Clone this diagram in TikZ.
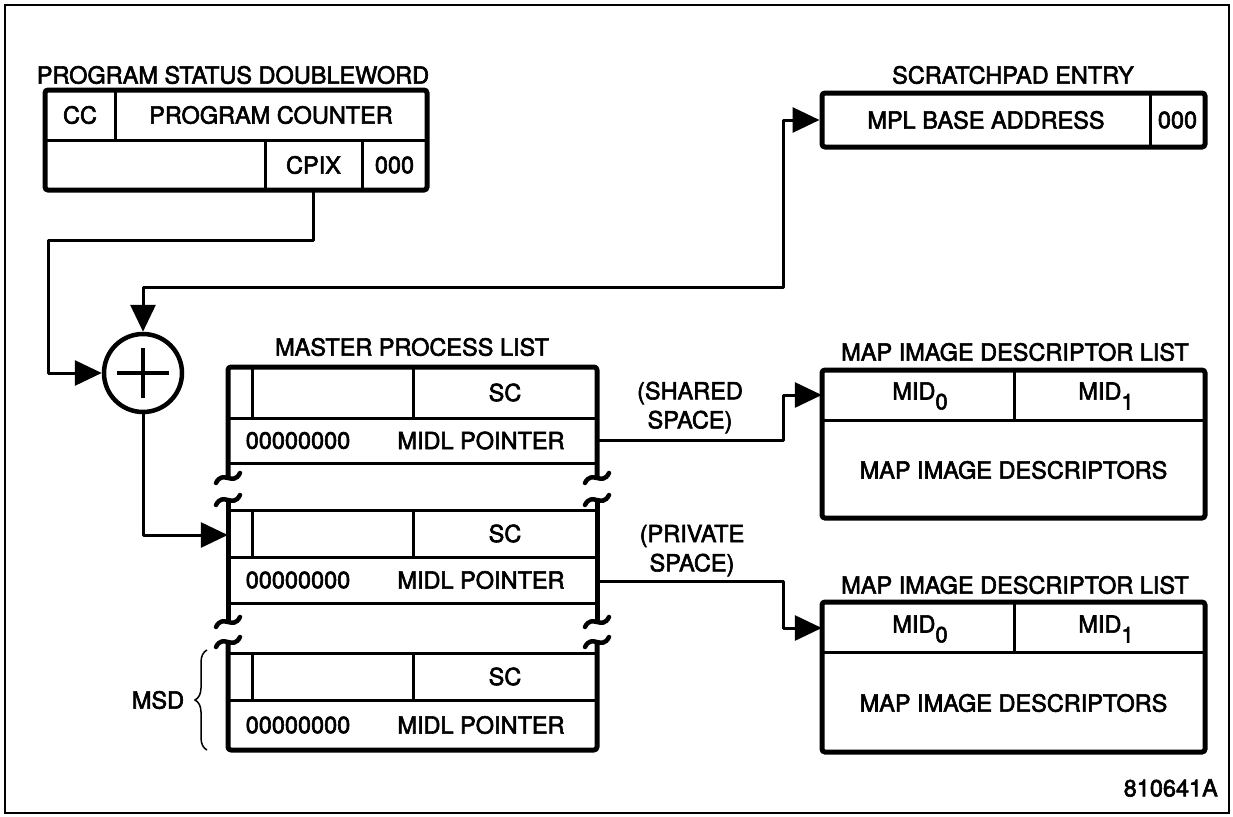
\documentclass[tikz,border=0pt]{standalone}
\usepackage{fontspec}
\setmainfont{TeX Gyre Heros}[FakeBold=2.5]
\usetikzlibrary{arrows.meta,decorations.pathreplacing,calc}
\begin{document}
\begin{tikzpicture}[x=1pt,y=-1pt,
  txt/.style={font=\fontsize{23.5}{27}\selectfont, inner sep=0pt},
  boxn/.style={draw, line width=5pt, rounded corners=3pt, inner sep=0pt},
  cell/.style={inner sep=0pt, font=\fontsize{23.5}{27}\selectfont},
  outerln/.style={line width=5pt, line join=round, rounded corners=3pt},
  innerln/.style={line width=3pt},
  conn/.style={line width=3pt, line join=round, -{Triangle[length=27pt,width=25pt]}},
  conntwo/.style={line width=3pt, line join=round, {Triangle[length=27pt,width=25pt]}-{Triangle[length=27pt,width=25pt]}},
  brk/.style={line width=4.5pt, line cap=round}
]
\newcommand{\subdig}[1]{\raisebox{-0.8ex}{\fontsize{22}{22}\selectfont #1}}
\useasboundingbox (0,0) rectangle (1233,816);
\draw[line width=2pt] (5,5) rectangle (1229,813);

% ---------- Program status doubleword
\node[txt] (psdt) at (233,75) {PROGRAM STATUS DOUBLEWORD};
\node[boxn, minimum width=382pt, minimum height=100pt] (psd) at (236,140) {};
\draw[innerln] (45,140) -- (427,140);
\draw[innerln] (115,90) -- (115,140);
\draw[innerln] (265,140) -- (265,190);
\draw[innerln] (362,140) -- (362,190);
\node[cell] (cc) at (80,115) {CC};
\node[cell] (pc) at (271,115) {PROGRAM COUNTER};
\node[cell, minimum width=97pt, minimum height=50pt] (cpix) at (313.5,165) {CPIX};
\node[cell] (psdz) at (394.5,165) {000};

% ---------- Scratchpad entry
\node[txt] (scrt) at (1013,75) {SCRATCHPAD ENTRY};
\node[boxn, minimum width=383pt, minimum height=54pt] (scr) at (1013.5,120) {};
\draw[innerln] (1150,93) -- (1150,147);
\node[cell] (mplb) at (986,120) {MPL BASE ADDRESS};
\node[cell] (scrz) at (1177.5,120) {000};

% ---------- Adder
\node[draw, circle, line width=4.5pt, minimum size=78pt, inner sep=0pt] (sum) at (143,373) {};
\draw[line width=4.5pt] ($(sum.center)+(-26,0)$) -- ($(sum.center)+(26,0)$);
\draw[line width=4.5pt] ($(sum.center)+(0,-25)$) -- ($(sum.center)+(0,25)$);

% ---------- Master process list
\node[txt] (mplt) at (412,347) {MASTER PROCESS LIST};
\draw[outerln] (228,478) -- (228,367) -- (597,367) -- (597,478);
\draw[outerln] (228,500) -- (228,622);
\draw[outerln] (597,500) -- (597,622);
\draw[outerln] (228,642) -- (228,750) -- (597,750) -- (597,642);
\foreach \y in {418,463,510,557,603,653,700} \draw[innerln] (228,\y) -- (597,\y);
\foreach \a/\b in {367/418,510/557,653/700} {
  \draw[innerln] (252,\a) -- (252,\b);
  \draw[innerln] (413,\a) -- (413,\b);
}
\foreach \x in {228,597} \foreach \y in {478,500,622,642}
  \draw[brk] (\x-12,\y+5) .. controls (\x-5,\y-9) and (\x+5,\y+9) .. (\x+12,\y-5);

\node[cell, minimum width=369pt, minimum height=51pt] (r1top) at (412.5,392.5) {};
\node[cell] (r1sc) at (505,392.5) {SC};
\node[cell, minimum width=369pt, minimum height=45pt] (r1ptr) at (412.5,440.5) {};
\node[cell] (r1z) at (298,440.5) {00000000};
\node[cell] (r1m) at (481,440.5) {MIDL POINTER};

\node[cell, minimum width=369pt, minimum height=47pt] (r2top) at (412.5,535) {};
\node[cell] (r2sc) at (505,533.5) {SC};
\node[cell, minimum width=369pt, minimum height=46pt] (r2ptr) at (412.5,581) {};
\node[cell] (r2z) at (298,580) {00000000};
\node[cell] (r2m) at (481,580) {MIDL POINTER};

\node[cell, minimum width=369pt, minimum height=47pt] (r3top) at (412.5,676.5) {};
\node[cell] (r3sc) at (505,676.5) {SC};
\node[cell, minimum width=369pt, minimum height=50pt] (r3ptr) at (412.5,725) {};
\node[cell] (r3z) at (298,725) {00000000};
\node[cell] (r3m) at (481,725) {MIDL POINTER};

\node[cell] (msd) at (158,700) {MSD};
\draw[line width=1.5pt, decorate, decoration={brace, amplitude=12pt}] (207,750) -- (207,650);

% ---------- Map image descriptor lists
\node[txt] (mid1t) at (1015,352) {MAP IMAGE DESCRIPTOR LIST};
\node[boxn, minimum width=383pt, minimum height=148pt] (mid1) at (1013.5,444) {};
\draw[innerln] (822,420) -- (1205,420);
\draw[innerln] (1014,370) -- (1014,420);
\node[cell, minimum width=383pt, minimum height=50pt] (mid1top) at (1013.5,395) {};
\node[cell] (m1a) at (920,396) {MID\subdig{0}};
\node[cell] (m1b) at (1106,396) {MID\subdig{1}};
\node[cell] (m1d) at (1013.5,470) {MAP IMAGE DESCRIPTORS};

\node[txt] (mid2t) at (1015,585) {MAP IMAGE DESCRIPTOR LIST};
\node[boxn, minimum width=383pt, minimum height=150pt] (mid2) at (1013.5,677) {};
\draw[innerln] (822,652) -- (1205,652);
\draw[innerln] (1014,602) -- (1014,652);
\node[cell, minimum width=383pt, minimum height=50pt] (mid2top) at (1013.5,628) {};
\node[cell] (m2a) at (920,629) {MID\subdig{0}};
\node[cell] (m2b) at (1106,629) {MID\subdig{1}};
\node[cell] (m2d) at (1013.5,703) {MAP IMAGE DESCRIPTORS};

% ---------- Connector labels
\node[cell] (sh1) at (690,393) {(SHARED};
\node[cell] (sh2) at (690,422) {SPACE)};
\node[cell] (pr1) at (692,536) {(PRIVATE};
\node[cell] (pr2) at (692,565) {SPACE)};

\node[cell, anchor=east] (fig) at (1218,788) {810641A};

% ---------- Connectors
\coordinate (j1) at (48,240);
\coordinate (j2) at (783,287);
\coordinate (j3) at (783,395);
\coordinate (j4) at (783,628);
\draw[conn] (cpix.south) |- (j1) |- (sum.west);
\draw[conntwo] (scr.west) -| (j2) -| (sum.north);
\draw[conn] (sum.south) |- (r2top.west);
\draw[conn] (r1ptr.east) -| (j3) -- (mid1top.west);
\draw[conn] (r2ptr.east) -| (j4) -- (mid2top.west);
\end{tikzpicture}
\end{document}
